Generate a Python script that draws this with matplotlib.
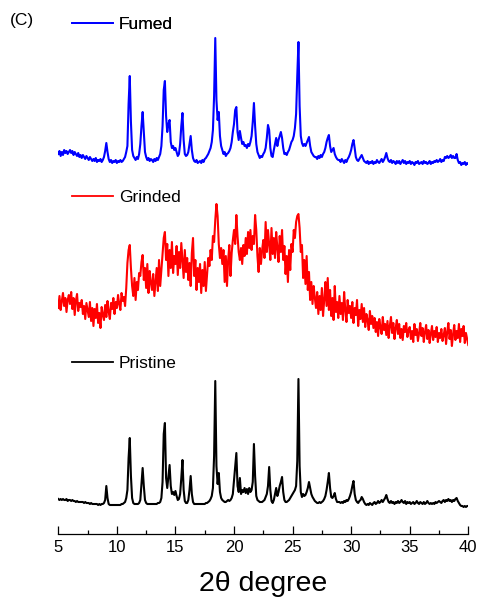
import numpy as np
import matplotlib
matplotlib.use("Agg")
import matplotlib.pyplot as plt
from matplotlib.lines import Line2D
from matplotlib.ticker import MultipleLocator

plt.rcParams['font.family'] = ['Liberation Sans', 'DejaVu Sans']

# scan range, 0.1 degree step
two_theta = np.round(np.arange(5.0, 40.05, 0.1), 1)

# intensities (a.u.), one row per degree
pristine = [
    7, 6, 7, 6, 7, 6, 6, 7, 5, 6,
    6, 5, 6, 5, 5, 4, 5, 4, 4, 4,
    4, 4, 3, 4, 3, 3, 3, 2, 3, 2,
    2, 2, 2, 2, 1, 2, 1, 2, 2, 3,
    6, 20, 8, 2, 1, 1, 1, 1, 1, 1,
    1, 1, 1, 1, 2, 2, 3, 4, 8, 16,
    48, 68, 30, 8, 3, 2, 2, 2, 2, 3,
    6, 22, 38, 20, 6, 3, 2, 2, 2, 2,
    2, 2, 2, 2, 2, 3, 3, 4, 8, 24,
    72, 83, 28, 18, 30, 41, 20, 12, 14, 11,
    15, 10, 6, 7, 12, 28, 46, 16, 5, 3,
    3, 6, 16, 30, 12, 4, 2, 2, 2, 2,
    2, 2, 2, 2, 2, 2, 3, 3, 4, 5,
    7, 10, 18, 50, 125, 40, 22, 33, 14, 8,
    6, 5, 4, 4, 5, 6, 5, 6, 8, 12,
    26, 40, 53, 20, 14, 28, 12, 16, 14, 18,
    13, 17, 12, 18, 14, 16, 24, 62, 30, 10,
    6, 5, 4, 4, 4, 5, 6, 9, 12, 20,
    39, 16, 5, 3, 6, 12, 18, 10, 14, 20,
    24, 29, 14, 6, 4, 4, 5, 6, 8, 10,
    12, 14, 16, 20, 45, 127, 40, 14, 9, 12,
    10, 11, 14, 18, 24, 18, 12, 9, 7, 5,
    4, 3, 3, 4, 3, 4, 5, 7, 10, 16,
    24, 33, 18, 9, 8, 10, 13, 7, 4, 4,
    4, 3, 4, 3, 5, 4, 6, 5, 7, 10,
    14, 20, 25, 12, 6, 4, 3, 5, 6, 9,
    7, 4, 2, 1, 2, 1, 3, 2, 1, 3,
    4, 2, 3, 5, 3, 4, 6, 4, 6, 8,
    11, 7, 4, 3, 5, 3, 4, 2, 4, 3,
    5, 3, 4, 6, 4, 3, 5, 2, 4, 3,
    4, 2, 3, 4, 2, 3, 5, 3, 2, 4,
    3, 2, 4, 2, 3, 5, 3, 2, 3, 2,
    3, 2, 4, 3, 4, 5, 4, 3, 5, 6,
    4, 6, 5, 7, 5, 6, 4, 6, 5, 7,
    8, 5, 3, 1, 0, 0, -1, 0, -1, 0,
    0,
]

grinded = [
    40, 52, 38, 47, 55, 42, 50, 36, 48, 53,
    44, 56, 39, 50, 33, 47, 54, 37, 45, 41,
    48, 34, 42, 29, 45, 38, 31, 46, 27, 40,
    22, 39, 30, 44, 25, 35, 20, 41, 33, 28,
    43, 31, 47, 36, 29, 45, 39, 50, 34, 46,
    40, 53, 44, 38, 55, 47, 51, 42, 60, 85,
    98, 103, 80, 62, 52, 70, 48, 66, 58, 75,
    72, 86, 93, 68, 80, 60, 84, 55, 77, 65,
    58, 74, 52, 66, 80, 57, 88, 62, 78, 95,
    110, 116, 88, 104, 72, 98, 80, 106, 75, 92,
    84, 102, 73, 96, 80, 105, 88, 70, 98, 76,
    90, 68, 85, 62, 95, 110, 72, 88, 58, 80,
    66, 84, 55, 78, 62, 86, 57, 74, 90, 82,
    98, 88, 112, 106, 128, 144, 132, 104, 90, 100,
    84, 98, 66, 92, 62, 88, 103, 72, 95, 108,
    118, 104, 133, 112, 96, 88, 100, 84, 103, 92,
    110, 94, 116, 100, 118, 98, 112, 104, 133, 118,
    92, 76, 100, 84, 98, 108, 90, 126, 96, 118,
    104, 88, 120, 94, 110, 90, 116, 100, 86, 112,
    96, 118, 88, 102, 74, 92, 66, 98, 78, 104,
    96, 118, 110, 126, 132, 134, 120, 96, 103, 70,
    88, 64, 92, 58, 76, 48, 66, 44, 62, 50,
    40, 56, 34, 52, 38, 60, 32, 48, 66, 42,
    70, 38, 58, 32, 50, 28, 62, 36, 46, 30,
    52, 34, 45, 28, 56, 38, 26, 48, 35, 42,
    30, 46, 25, 40, 33, 48, 22, 38, 29, 44,
    26, 40, 21, 34, 28, 18, 37, 24, 32, 20,
    30, 16, 26, 12, 29, 21, 14, 31, 18, 24,
    13, 27, 10, 22, 31, 15, 25, 9, 20, 28,
    14, 24, 10, 19, 8, 22, 16, 25, 11, 18,
    21, 9, 17, 6, 24, 13, 19, 7, 15, 25,
    12, 20, 6, 16, 23, 9, 18, 5, 14, 22,
    8, 17, 11, 21, 6, 15, 10, 19, 7, 13,
    20, 4, 16, 25, 9, 18, 2, 14, 23, 8,
    17, 10, 24, 6, 19, 12, 22, 5, 15, 9,
    3,
]

fumed = [
    12, 15, 10, 14, 11, 16, 13, 15, 12, 14,
    16, 13, 15, 11, 14, 12, 10, 13, 9, 11,
    8, 11, 9, 7, 10, 8, 6, 9, 7, 5,
    7, 5, 8, 4, 6, 5, 7, 4, 6, 9,
    15, 23, 14, 7, 4, 6, 3, 5, 4, 6,
    3, 5, 4, 6, 4, 5, 7, 9, 14, 20,
    62, 90, 44, 16, 10, 8, 6, 9, 7, 12,
    22, 40, 54, 34, 14, 9, 6, 8, 5, 7,
    6, 4, 7, 5, 8, 6, 9, 12, 20, 40,
    76, 85, 50, 34, 42, 46, 24, 18, 20, 16,
    18, 14, 10, 12, 22, 40, 53, 26, 12, 10,
    11, 14, 22, 30, 16, 8, 5, 4, 6, 3,
    4, 5, 3, 6, 4, 7, 8, 10, 12, 15,
    18, 24, 36, 70, 128, 66, 46, 54, 30, 20,
    16, 12, 14, 10, 12, 13, 15, 18, 24, 34,
    42, 56, 59, 34, 26, 35, 28, 22, 24, 20,
    21, 18, 22, 20, 24, 30, 44, 63, 40, 22,
    14, 11, 8, 10, 9, 12, 14, 18, 28, 41,
    36, 18, 10, 9, 16, 22, 28, 20, 26, 30,
    34, 28, 18, 12, 13, 11, 14, 16, 20, 24,
    26, 30, 38, 52, 90, 124, 60, 30, 23, 20,
    22, 20, 23, 26, 29, 20, 14, 12, 10, 9,
    9, 7, 10, 8, 11, 9, 12, 14, 18, 24,
    28, 31, 20, 14, 16, 18, 12, 9, 7, 6,
    6, 4, 7, 5, 3, 6, 4, 7, 9, 12,
    16, 22, 26, 18, 9, 6, 5, 7, 9, 11,
    8, 5, 4, 3, 5, 2, 4, 3, 5, 2,
    4, 3, 6, 4, 3, 5, 7, 4, 6, 9,
    13, 8, 5, 4, 6, 3, 5, 4, 2, 5,
    3, 5, 2, 4, 6, 3, 5, 2, 4, 3,
    5, 2, 4, 3, 1, 4, 3, 5, 2, 3,
    4, 2, 5, 3, 4, 2, 3, 5, 2, 4,
    3, 5, 4, 6, 4, 5, 7, 4, 6, 5,
    9, 8, 10, 8, 9, 11, 8, 10, 8, 8,
    12, 6, 3, 4, 1, 3, 2, 4, 1, 3,
    2,
]

labels = ['Pristine', 'Grinded', 'Fumed']
colors = ['black', 'red', 'blue']
offsets = [0, 158, 340]          # vertical stacking
legend_y = [363, 197, 24]        # legend row, in pixels from the top

fig = plt.figure(figsize=(4.83, 6.10), dpi=100)
ax = fig.add_axes([58.3 / 483, 76 / 610, 410 / 483, 534 / 610])

for data, lab, col, off, ly in zip([pristine, grinded, fumed], labels, colors, offsets, legend_y):
    ax.plot(two_theta, np.array(data) + off, color=col, lw=1.5)
    handle = Line2D([], [], color=col, lw=1.3)
    leg = ax.legend([handle], [lab], loc='center left',
                    bbox_to_anchor=(72 / 483, 1 - ly / 610),
                    bbox_transform=fig.transFigure, frameon=False,
                    borderpad=0, borderaxespad=0, handlelength=2.35,
                    handletextpad=0.35, fontsize=12.5)
    ax.add_artist(leg)

ax.set_xlim(5, 40)
ax.set_ylim(-28, 506)
for s in ['left', 'right', 'top']:
    ax.spines[s].set_visible(False)
ax.spines['bottom'].set_linewidth(0.9)
ax.set_yticks([])
ax.xaxis.set_major_locator(MultipleLocator(5))
ax.xaxis.set_minor_locator(MultipleLocator(2.5))
ax.tick_params(axis='x', which='major', direction='in', length=5.8, width=0.9,
               labelsize=12, pad=4)
ax.tick_params(axis='x', which='minor', direction='in', length=2.6, width=0.9)
ax.set_xlabel('2θ degree', fontsize=20.5, labelpad=12)

fig.text(10 / 483, 1 - 21 / 610, '(C)', fontsize=12.5, va='center', ha='left')

fig.savefig('out.png', dpi=100)
